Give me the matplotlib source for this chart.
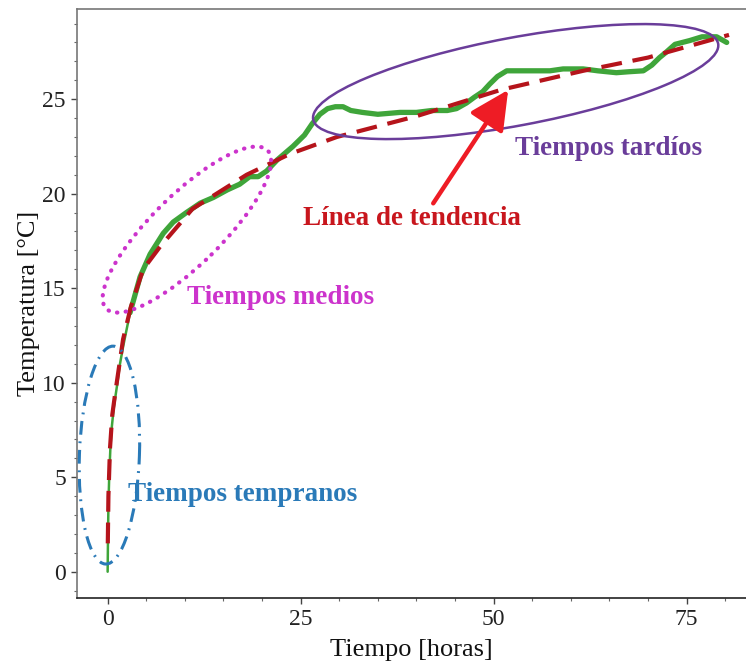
import matplotlib
matplotlib.use("Agg")
import matplotlib.pyplot as plt
from matplotlib.patches import Ellipse, FancyArrowPatch
from matplotlib.ticker import MultipleLocator
import matplotlib.transforms as mtransforms

# ---- data ----
tiempo = [0, 0.05, 0.1, 0.2, 0.35, 0.5, 0.8, 1.2, 1.6, 2.0, 2.9, 4.2, 5.5, 7.2,
          8.5, 10.2, 12.0, 13.7, 15.5, 17.1, 18.4, 19.5, 20.6, 22.0, 24.0, 25.5,
          26.5, 27.5, 28.5, 29.5, 30.5, 31.5, 33.0, 35.0, 37.9, 40.0, 42.0, 44.0,
          45.2, 46.5, 47.5, 48.6, 49.5, 50.5, 51.7, 53.0, 55.0, 57.3, 59.0, 61.6,
          63.5, 65.9, 67.5, 69.4, 70.5, 71.5, 72.4, 73.5, 75.4, 77.0, 78.9, 80.2]
temperatura = [0, 2.0, 3.5, 5.0, 6.5, 7.5, 8.7, 9.8, 11.0, 11.9, 13.7, 15.6, 16.8, 17.9,
               18.5, 19.0, 19.5, 19.8, 20.2, 20.5, 20.9, 20.9, 21.2, 21.8, 22.5, 23.1,
               23.7, 24.2, 24.5, 24.6, 24.6, 24.4, 24.3, 24.2, 24.3, 24.3, 24.4, 24.4,
               24.5, 24.8, 25.1, 25.4, 25.8, 26.2, 26.5, 26.5, 26.5, 26.5, 26.6, 26.6,
               26.5, 26.4, 26.45, 26.5, 26.8, 27.2, 27.5, 27.9, 28.1, 28.3, 28.3, 28.0]

tend_t = [0.02, 0.1, 0.3, 0.6, 1.0, 2.0, 3.0, 4.6, 6.8, 11.0, 18.0, 23.6, 29.7,
          40.0, 51.0, 61.6, 70.0, 80.5]
tend_y = [1.5, 4.0, 6.5, 8.3, 9.5, 12.3, 14.0, 16.0, 17.2, 19.2, 21.0, 22.1, 23.0,
          24.1, 25.5, 26.5, 27.2, 28.4]

x_ticks = [0, 25, 50, 75]
y_ticks = [0, 5, 10, 15, 20, 25]

serif = ["Liberation Serif", "DejaVu Serif"]

fig = plt.figure(figsize=(7.46, 6.64), dpi=100)
ax = fig.add_axes([77 / 746, 66 / 664, 669 / 746, 589 / 664])
ax.set_xlim(-3.97, 82.7)
ax.set_ylim(-1.39, 29.77)

# green measured curve (thin early part, thicker noisy part)
n_early = 10
ax.plot(tiempo[:n_early + 1], temperatura[:n_early + 1], color="#3fa53a", lw=1.8,
        solid_capstyle="round", zorder=3)
ax.plot(tiempo[n_early:], temperatura[n_early:], color="#3fa53a", lw=3.8,
        solid_capstyle="round", solid_joinstyle="round", zorder=3)

# red dashed trend line
ax.plot(tend_t, tend_y, color="#b5141b", lw=3.0, dashes=(5, 2.6), zorder=4)

# ellipses, sizes in pixels (converted to inches), centred in data coordinates
def ellipse(cx, cy, w_px, h_px, ang, **kw):
    tr = fig.dpi_scale_trans + mtransforms.ScaledTranslation(cx, cy, ax.transData)
    e = Ellipse((0, 0), w_px / 100, h_px / 100, angle=ang, transform=tr,
                fill=False, clip_on=False, **kw)
    ax.add_patch(e)

ellipse(52.86, 25.93, 412, 88, 10.6, edgecolor="#6a3d9a", lw=1.8, zorder=5)
ellipse(10.27, 18.1, 226, 70, 44.5, edgecolor="#cc33cc", lw=3.0,
        linestyle=(0, (0.1, 2.0)), capstyle="round", zorder=5)
ellipse(0.23, 6.17, 218, 60, 88.0, edgecolor="#2a7ab8", lw=2.2,
        linestyle=(0, (4.5, 2.2, 0.6, 2.2)), zorder=5)

# arrow
arr = FancyArrowPatch((42.18, 19.49), (51.89, 25.49),
                      arrowstyle="-|>,head_length=1.2,head_width=0.6",
                      mutation_scale=20, color="#ee1c25", lw=3.2, zorder=6,
                      shrinkA=0, shrinkB=0)
ax.add_patch(arr)

# annotation texts
fs_ann = 19.5
ax.text(25.3, 18.7, "Línea de tendencia", color="#c8161d", fontsize=fs_ann,
        fontweight="bold", family=serif, va="center", ha="left")
ax.text(52.8, 22.4, "Tiempos tardíos", color="#6a3d9a", fontsize=fs_ann,
        fontweight="bold", family=serif, va="center", ha="left")
ax.text(10.3, 14.5, "Tiempos medios", color="#cc33cc", fontsize=fs_ann,
        fontweight="bold", family=serif, va="center", ha="left")
ax.text(2.67, 4.06, "Tiempos tempranos", color="#2a7ab8", fontsize=fs_ann,
        fontweight="bold", family=serif, va="center", ha="left")

# axes styling
ax.set_xticks(x_ticks)
ax.set_yticks(y_ticks)
ax.xaxis.set_minor_locator(MultipleLocator(5))
ax.yaxis.set_minor_locator(MultipleLocator(1))
ax.tick_params(which="major", direction="out", length=4, width=1, colors="#444444",
               labelsize=17, labelcolor="#222222", pad=4)
ax.tick_params(which="minor", direction="out", length=2.5, width=0.8, colors="#666666")
for lab in ax.get_xticklabels() + ax.get_yticklabels():
    lab.set_family(serif)
ax.spines["right"].set_visible(False)
ax.spines["left"].set_color("#777777")
ax.spines["top"].set_color("#777777")
ax.spines["bottom"].set_color("#222222")
for s in ax.spines.values():
    s.set_linewidth(1.2)

ax.set_xlabel("Tiempo [horas]", fontsize=19, family=serif, color="#111111")
ax.set_ylabel("Temperatura [°C]", fontsize=19, family=serif, color="#111111")
ax.xaxis.set_label_coords(0.5, -0.07)
ax.yaxis.set_label_coords(-0.056, 0.5)

fig.savefig("out.png", dpi=100)
